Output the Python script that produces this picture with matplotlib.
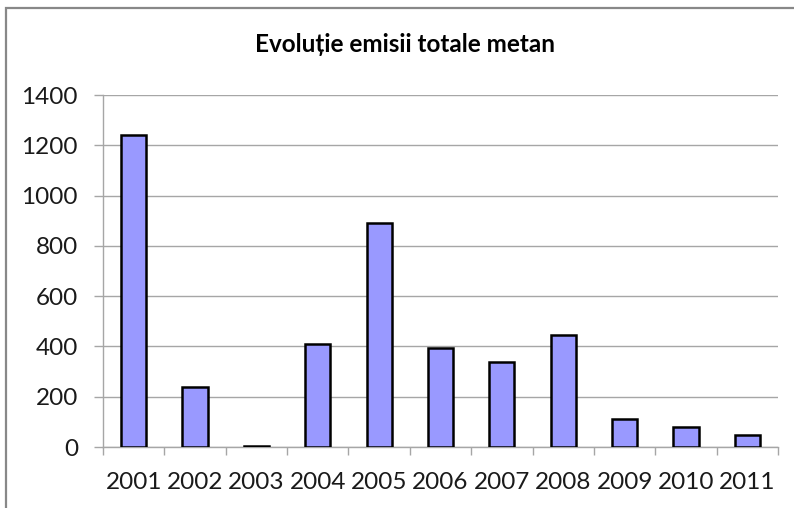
import matplotlib
matplotlib.use("Agg")
import matplotlib.pyplot as plt
from matplotlib.patches import Rectangle
from matplotlib.ticker import FixedLocator

years = ["2001", "2002", "2003", "2004", "2005", "2006", "2007", "2008", "2009", "2010", "2011"]
values = [1240, 240, 2, 410, 890, 395, 340, 445, 112, 78, 47]
yticks = [0, 200, 400, 600, 800, 1000, 1200, 1400]
title = "Evoluție emisii totale metan"

plt.rcParams['font.family'] = ['Lato', 'DejaVu Sans']

fig = plt.figure(figsize=(7.94, 5.08), dpi=100)
ax = fig.add_axes([103/794, 1-447/508, (778-103)/794, (447-95)/508])

x = list(range(len(years)))
ax.bar(x, values, width=0.41, color="#9999FF", edgecolor="black", linewidth=1.8, zorder=3)

ax.set_xlim(-0.5, len(years) - 0.5)
ax.set_ylim(0, 1400)
ax.set_yticks(yticks)
ax.set_yticklabels([str(v) for v in yticks])
ax.yaxis.grid(True, color="#A6A6A6", linewidth=1.0, zorder=0)
ax.set_axisbelow(True)

# x: boundary ticks (major, no label), centered labels (minor, no tick)
ax.xaxis.set_major_locator(FixedLocator([i + 0.5 for i in range(-1, len(years))]))
ax.xaxis.set_minor_locator(FixedLocator(x))
ax.set_xticklabels([""] * (len(years) + 1))
ax.set_xticks(x, minor=True)
ax.set_xticklabels(years, minor=True)
ax.tick_params(axis="x", which="major", length=6, width=1, color="#A6A6A6", direction="out")
ax.tick_params(axis="x", which="minor", length=0, pad=18, labelsize=17.5, labelcolor="#1a1a1a")
ax.tick_params(axis="y", length=6.5, width=1, color="#A6A6A6", direction="out", pad=11.5, labelsize=17.5, labelcolor="#1a1a1a")

for s in ["top", "right"]:
    ax.spines[s].set_visible(False)
for s in ["left", "bottom"]:
    ax.spines[s].set_color("#A6A6A6")
    ax.spines[s].set_linewidth(1.0)

fig.text(0.51, 1 - 45/508, title, ha="center", va="center", fontsize=17.5, fontweight="bold", color="black")

fig.patches.append(Rectangle((6/794, -0.1), 1.2, 1 - 8/508 + 0.1, transform=fig.transFigure,
                             fill=False, edgecolor="#888888", linewidth=1.6))

fig.savefig("out.png", dpi=100)
